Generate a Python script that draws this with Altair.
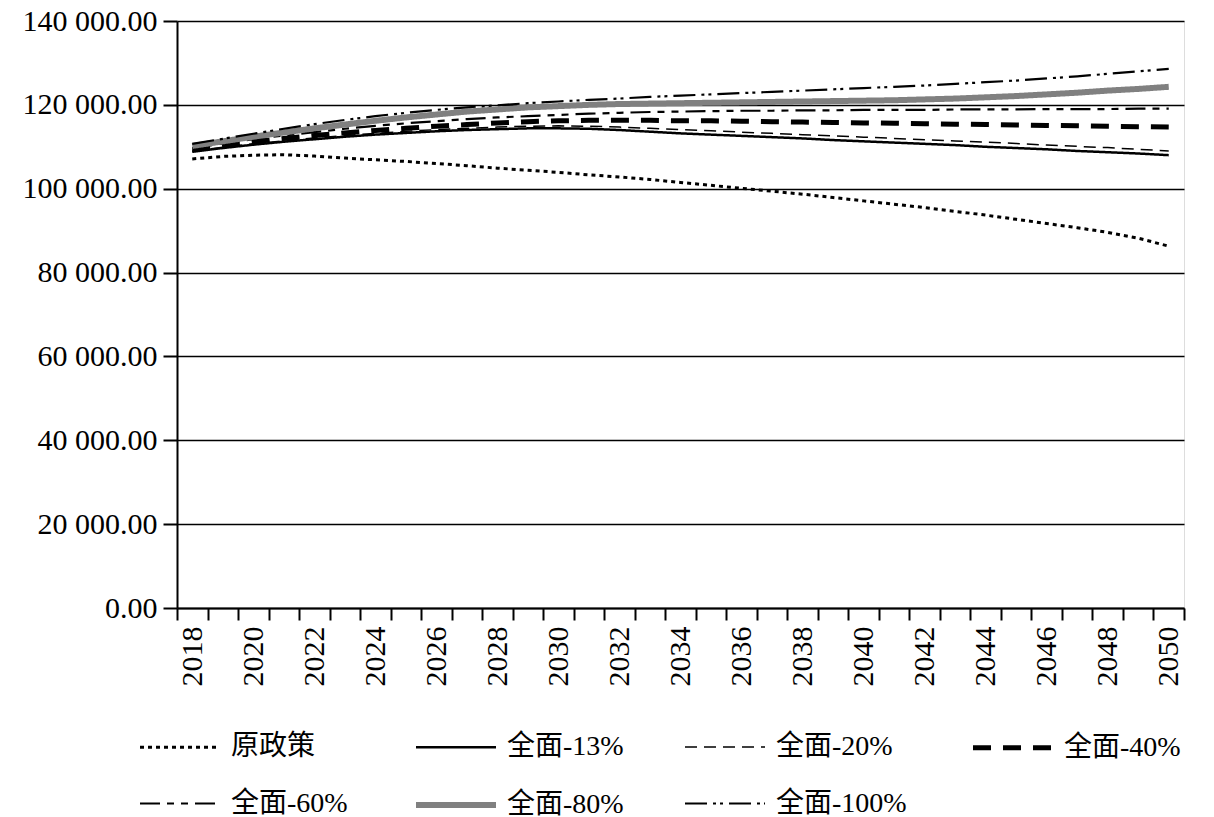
import altair as alt
import pandas as pd

years = list(range(2018, 2051))

series_names = ["原政策", "全面-13%", "全面-20%", "全面-40%", "全面-60%", "全面-80%", "全面-100%"]

orig = [107100, 107700, 108000, 108100, 107800, 107300, 106900, 106500, 106000, 105500,
        104900, 104400, 103900, 103300, 102800, 102200, 101500, 100800, 100100, 99400,
        98700, 97900, 97100, 96300, 95500, 94600, 93700, 92700, 91700, 90700, 89600, 88200, 86300]
q13 = [108800, 109700, 110500, 111200, 111800, 112400, 112900, 113300, 113700, 114000,
       114200, 114400, 114400, 114300, 114000, 113600, 113200, 112900, 112600, 112300,
       112000, 111600, 111300, 111000, 110700, 110400, 110000, 109700, 109400, 109000, 108700, 108400, 108000]
q20 = [109000, 109900, 110700, 111400, 112100, 112700, 113200, 113700, 114100, 114400,
       114700, 114900, 115000, 114900, 114700, 114400, 114100, 113800, 113500, 113200,
       112900, 112600, 112300, 112000, 111700, 111400, 111100, 110800, 110400, 110100, 109800, 109400, 109000]
q40 = [109300, 110300, 111200, 112000, 112700, 113300, 113900, 114400, 114900, 115300,
       115700, 116000, 116200, 116300, 116300, 116300, 116200, 116200, 116100, 116000,
       115900, 115800, 115700, 115600, 115500, 115400, 115300, 115200, 115100, 115000, 114900, 114800, 114700]
q60 = [109700, 110800, 111800, 112700, 113500, 114300, 115000, 115600, 116100, 116600,
       117000, 117300, 117600, 117900, 118100, 118300, 118400, 118500, 118600, 118600,
       118700, 118700, 118800, 118800, 118800, 118900, 118900, 118900, 119000, 119000, 119000, 119100, 119100]
q80 = [110200, 111300, 112400, 113400, 114400, 115300, 116200, 117000, 117700, 118400,
       118900, 119400, 119700, 120000, 120200, 120300, 120400, 120500, 120600, 120700,
       120800, 120900, 121000, 121100, 121300, 121500, 121800, 122100, 122500, 122900, 123400, 123800, 124300]
q100 = [110700, 111900, 113100, 114300, 115400, 116400, 117300, 118100, 118800, 119400,
        119900, 120400, 120800, 121200, 121500, 121900, 122200, 122500, 122800, 123100,
        123400, 123700, 124000, 124300, 124600, 125000, 125400, 125800, 126300, 126800, 127400, 128000, 128600]

y_ticks = [0, 20000, 40000, 60000, 80000, 100000, 120000, 140000]

all_values = [orig, q13, q20, q40, q60, q80, q100]
rows = []
for name, vals in zip(series_names, all_values):
    for yr, v in zip(years, vals):
        rows.append({"year": yr, "value": v, "series": name})
df = pd.DataFrame(rows)

colors = ["#000000", "#000000", "#000000", "#000000", "#000000", "#808080", "#000000"]
dashes = [[4, 4], [1, 0], [12, 7], [18, 12], [20, 7, 7, 7, 7, 7], [1, 0], [22, 6, 3, 4, 3, 6]]
widths = [3, 2.5, 1.5, 5, 2.2, 6, 2.2]

serif = "Liberation Serif, Noto Sans CJK SC"

legend = alt.Legend(
    title=None,
    orient="none",
    legendX=-40,
    legendY=684,
    columns=4,
    direction="horizontal",
    symbolType="stroke",
    symbolSize=6400,
    labelFont=serif,
    labelFontSize=28,
    labelColor="#000000",
    labelOffset=8,
    columnPadding=56,
    rowPadding=0,
    labelLimit=300,
)

chart = alt.Chart(df).mark_line(strokeCap="butt").encode(
    x=alt.X("year:O", title=None,
            scale=alt.Scale(paddingInner=0, paddingOuter=0),
            axis=alt.Axis(labelAngle=-90, labelFont=serif, labelFontSize=30, labelColor="#000000",
                          tickBand="extent", tickSize=12, tickColor="#000000", tickWidth=2,
                          domainColor="#000000", domainWidth=2, labelPadding=6,
                          labelExpr="datum.value % 2 === 0 ? datum.label : ''")),
    y=alt.Y("value:Q", title=None,
            scale=alt.Scale(domain=[0, 140000], nice=False),
            axis=alt.Axis(values=y_ticks, labelFont=serif, labelFontSize=30, labelColor="#000000",
                          labelExpr="replace(format(datum.value, ',.2f'), ',', ' ')",
                          tickSize=14, tickColor="#000000", tickWidth=2,
                          domainColor="#000000", domainWidth=2,
                          grid=True, gridColor="#000000", gridWidth=1.5, labelPadding=6)),
    color=alt.Color("series:N", scale=alt.Scale(type="ordinal", domain=series_names, range=colors),
                    sort=series_names, legend=legend),
    strokeDash=alt.StrokeDash("series:N", scale=alt.Scale(type="ordinal", domain=series_names, range=dashes),
                              sort=series_names, legend=legend),
    strokeWidth=alt.StrokeWidth("series:N", scale=alt.Scale(type="ordinal", domain=series_names, range=widths),
                                sort=series_names, legend=legend),
).properties(
    width=1007,
    height=587,
    autosize=alt.AutoSizeParams(type="none"),
    padding={"left": 169, "top": 13, "right": 20, "bottom": 230},
).configure_view(stroke=None).configure(background="#ffffff")

chart.save("out.html", embed_options={"renderer": "svg", "actions": False})
